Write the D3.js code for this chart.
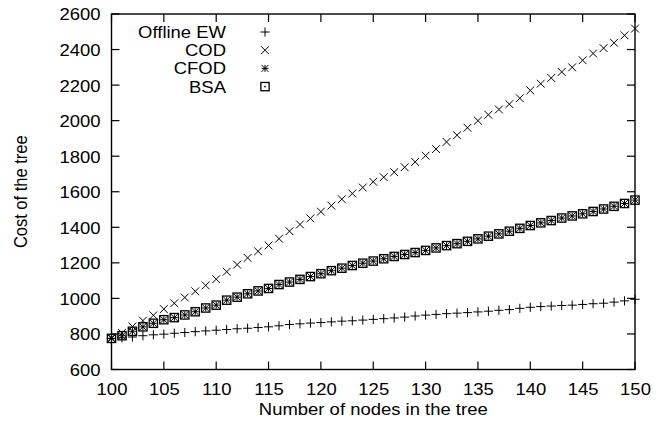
<!DOCTYPE html>
<html>
<head>
<meta charset="utf-8">
<script src="https://cdn.jsdelivr.net/npm/d3@7"></script>
<style>
  html, body { margin: 0; padding: 0; background: #fff; }
  svg { display: block; }
  text { font-family: "Liberation Sans", Arial, Helvetica, sans-serif; fill: #000; }
</style>
</head>
<body>
<svg id="chart" width="667" height="429"></svg>
<script>
// Number of nodes in the tree
const nodes = d3.range(100, 151);

// Cost of the tree for each algorithm
const offlineEW = [775, 778, 783, 790, 795, 799, 804, 808, 813, 817,
  821, 825, 829, 832, 836, 840, 846, 853, 857, 861,
  864, 868, 872, 874, 878, 882, 886, 890, 895, 901,
  906, 910, 914, 917, 920, 924, 928, 933, 937, 944,
  950, 954, 957, 960, 962, 966, 970, 973, 979, 986, 995];

const cod = [778, 806, 842, 875, 905, 940, 973, 1005, 1040, 1073,
  1108, 1150, 1190, 1228, 1265, 1298, 1336, 1378, 1416, 1450,
  1488, 1522, 1558, 1590, 1624, 1656, 1682, 1710, 1738, 1768,
  1803, 1840, 1880, 1918, 1960, 2000, 2033, 2063, 2093, 2126,
  2170, 2208, 2240, 2274, 2300, 2340, 2378, 2408, 2438, 2480, 2518];

const cfod = [775, 790, 815, 840, 860, 880, 892, 907, 925, 946,
  962, 990, 1007, 1026, 1042, 1056, 1078, 1092, 1107, 1123,
  1139, 1156, 1170, 1185, 1198, 1210, 1223, 1236, 1247, 1258,
  1270, 1284, 1297, 1308, 1321, 1335, 1350, 1363, 1378, 1394,
  1410, 1425, 1438, 1452, 1464, 1476, 1489, 1503, 1518, 1534, 1553];

const bsa = [775, 790, 815, 840, 860, 880, 892, 907, 925, 946,
  962, 990, 1007, 1026, 1042, 1056, 1078, 1092, 1107, 1123,
  1139, 1156, 1170, 1185, 1198, 1210, 1223, 1236, 1247, 1258,
  1270, 1284, 1297, 1308, 1321, 1335, 1350, 1363, 1378, 1394,
  1410, 1425, 1438, 1452, 1464, 1476, 1489, 1503, 1518, 1534, 1553];

const seriesNames = ["Offline EW", "COD", "CFOD", "BSA"];
const xTicks = d3.range(100, 151, 5);
const yTicks = d3.range(600, 2601, 200);

const margin = { left: 111.5, right: 32, top: 14, bottom: 59.5 };
const W = 667, H = 429;
const svg = d3.select("#chart");

const x = d3.scaleLinear().domain([100, 150]).range([margin.left, W - margin.right]);
const y = d3.scaleLinear().domain([600, 2600]).range([H - margin.bottom, margin.top]);

const fontSize = 16.5;
const wide = 1.12;   // horizontal widening of the lettering
const tickLen = 8;

// place a horizontal label at (px, py), widened horizontally around its anchor
function placeText(sel, px, py) {
  sel.attr("x", 0).attr("y", 0)
    .attr("transform", `translate(${px},${py}) scale(${wide},1)`);
}

// marker shapes (gnuplot-like point types)
const S = 4.6;
function plus(g) {
  g.append("path").attr("d", `M${-S},0H${S}M0,${-S}V${S}`);
}
function cross(g) {
  const s = S * 0.85;
  g.append("path").attr("d", `M${-s},${-s}L${s},${s}M${-s},${s}L${s},${-s}`);
}
function star(g) {
  const s = S * 0.75;
  g.append("path").attr("d", `M${-s},0H${s}M0,${-s}V${s}M${-s},${-s}L${s},${s}M${-s},${s}L${s},${-s}`);
}
function box(g) {
  const s = S * 0.9;
  g.append("rect").attr("x", -s).attr("y", -s).attr("width", 2 * s).attr("height", 2 * s)
    .attr("fill", "none").attr("stroke-width", 1.3);
  g.append("circle").attr("r", 0.9).attr("fill", "#000").attr("stroke", "none");
}
const markers = [plus, cross, star, box];
const allSeries = [offlineEW, cod, cfod, bsa];

// frame
svg.append("rect")
  .attr("x", x(100)).attr("y", y(2600))
  .attr("width", x(150) - x(100)).attr("height", y(600) - y(2600))
  .attr("fill", "none").attr("stroke", "#000").attr("stroke-width", 1.4);

// tick labels from d3 axes; tick marks drawn inward and mirrored below
const xAxis = d3.axisBottom(x).tickValues(xTicks).tickSize(0).tickPadding(0).tickFormat(d3.format("d"));
const gx = svg.append("g").attr("transform", `translate(0,${y(600)})`).call(xAxis);
gx.select(".domain").remove();
gx.selectAll("text").attr("font-size", fontSize).attr("dy", "0.36em")
  .each(function () { placeText(d3.select(this), 0, 19.5); });

const yAxis = d3.axisLeft(y).tickValues(yTicks).tickSize(0).tickPadding(0).tickFormat(d3.format("d"));
const gy = svg.append("g").attr("transform", `translate(${x(100)},0)`).call(yAxis);
gy.select(".domain").remove();
gy.selectAll("text").attr("font-size", fontSize).attr("dy", "0.36em")
  .each(function () { placeText(d3.select(this), -11, 0); });

const tickG = svg.append("g").attr("stroke", "#000").attr("stroke-width", 1.2);
xTicks.forEach(v => {
  tickG.append("line").attr("x1", x(v)).attr("x2", x(v)).attr("y1", y(600)).attr("y2", y(600) - tickLen);
  tickG.append("line").attr("x1", x(v)).attr("x2", x(v)).attr("y1", y(2600)).attr("y2", y(2600) + tickLen);
});
yTicks.forEach(v => {
  tickG.append("line").attr("x1", x(100)).attr("x2", x(100) + tickLen).attr("y1", y(v)).attr("y2", y(v));
  tickG.append("line").attr("x1", x(150)).attr("x2", x(150) - tickLen).attr("y1", y(v)).attr("y2", y(v));
});

// axis titles
svg.append("text")
  .attr("text-anchor", "middle").attr("font-size", fontSize)
  .text("Number of nodes in the tree")
  .call(placeText, (x(100) + x(150)) / 2, 415);
svg.append("text")
  .attr("transform", `translate(27,${(y(600) + y(2600)) / 2}) rotate(-90) scale(1,${wide})`)
  .attr("text-anchor", "middle").attr("font-size", fontSize)
  .text("Cost of the tree");

// data points
const pts = svg.append("g").attr("stroke", "#000").attr("stroke-width", 1).attr("fill", "none");
allSeries.forEach((vals, si) => {
  vals.forEach((v, i) => {
    const g = pts.append("g").attr("transform", `translate(${x(nodes[i])},${y(v)})`);
    markers[si](g);
  });
});

// legend
const legend = svg.append("g");
seriesNames.forEach((name, i) => {
  const ly = 32 + i * 18.2;
  legend.append("text")
    .attr("dy", "0.36em")
    .attr("text-anchor", "end").attr("font-size", fontSize)
    .text(name)
    .call(placeText, 226, ly);
  const g = legend.append("g").attr("transform", `translate(265,${ly})`)
    .attr("stroke", "#000").attr("stroke-width", 1).attr("fill", "none");
  markers[i](g);
});
</script>
</body>
</html>
